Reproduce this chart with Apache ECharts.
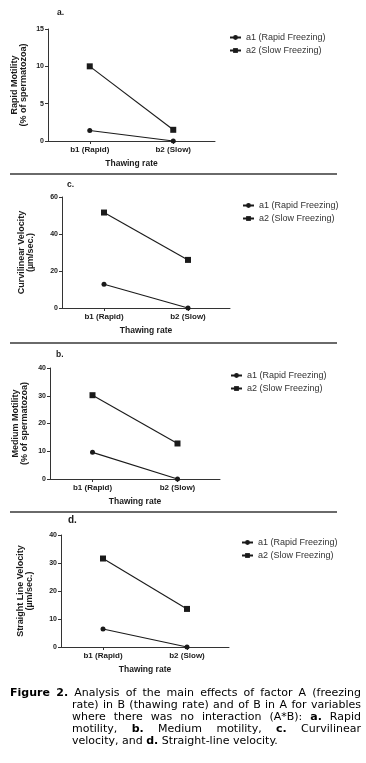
<!DOCTYPE html>
<html>
<head>
<meta charset="utf-8">
<script src="https://cdn.jsdelivr.net/npm/echarts@6/dist/echarts.min.js"></script>
<style>
  html, body { margin: 0; padding: 0; background: #fff; }
  #chart { position: absolute; left: 0; top: 0; width: 366px; height: 763px; }
  #caption { position: absolute; left: 10px; top: 687px; width: 351px;
    font-family: 'DejaVu Sans', Verdana, sans-serif; font-size: 11px; line-height: 11.9px; color: #000; }
  #caption .l { white-space: nowrap; }
  #caption .l.ind { padding-left: 62px; }
</style>
</head>
<body>
<div id="chart"></div>
<div id="caption">
  <div class="l"><span><b>Figure 2.</b> Analysis of the main effects of factor A (freezing</span></div>
  <div class="l ind"><span>rate) in B (thawing rate) and of B in A for variables</span></div>
  <div class="l ind"><span>where there was no interaction (A*B): <b>a.</b> Rapid</span></div>
  <div class="l ind"><span>motility, <b>b.</b> Medium motility, <b>c.</b> Curvilinear</span></div>
  <div class="l ind last"><span>velocity, and <b>d.</b> Straight-line velocity.</span></div>
</div>
<script>
// data
const categories = ['b1 (Rapid)', 'b2 (Slow)'];
const seriesNames = ['a1 (Rapid Freezing)', 'a2 (Slow Freezing)'];

const rapidA1 = [1.4, 0];
const rapidA2 = [10, 1.5];
const curvA1 = [12.8, 0];
const curvA2 = [51.6, 26];
const mediumA1 = [9.6, 0];
const mediumA2 = [30.2, 12.8];
const straightA1 = [6.4, 0];
const straightA2 = [31.6, 13.6];

const panelLabels = ['a.', 'c.', 'b.', 'd.'];
const yNames = [
  'Rapid Motility\n(% of spermatozoa)',
  'Curvilinear Velocity\n(µm/sec.)',
  'Medium Motility\n(% of spermatozoa)',
  'Straight Line Velocity\n(µm/sec.)'
];
const yMax = [15, 60, 40, 40];
const yStep = [5, 20, 10, 10];
const xName = 'Thawing rate';

// layout of the four stacked panels
const panels = [
  { left: 48, top: 29, width: 167, height: 112, nameGap: 20, lab: [57, 8], leg: [229, 33], data: [rapidA1, rapidA2] },
  { left: 62, top: 197, width: 168, height: 111, nameGap: 27, lab: [67, 180], leg: [242, 201], data: [curvA1, curvA2] },
  { left: 50, top: 368, width: 170, height: 111, nameGap: 21, lab: [56, 350], leg: [230, 371], data: [mediumA1, mediumA2] },
  { left: 61, top: 535, width: 168, height: 112, nameGap: 27, lab: [68, 515], leg: [241, 538], data: [straightA1, straightA2] }
];
const separatorsY = [174, 343, 512];

const FONT = 'Liberation Sans, Arial, sans-serif';
const INK = '#1a1a1a';
const symbols = ['circle', 'rect'];
const symbolSizes = [5, 6];

const chart = echarts.init(document.getElementById('chart'), null, { renderer: 'canvas' });

const grid = [], xAxis = [], yAxis = [], series = [], legend = [], graphic = [];
panels.forEach((p, i) => {
  grid.push({ left: p.left, top: p.top, width: p.width, height: p.height, containLabel: false });
  xAxis.push({
    type: 'category', gridIndex: i, data: categories, boundaryGap: true,
    name: xName, nameLocation: 'middle', nameGap: 18,
    nameTextStyle: { fontFamily: FONT, fontWeight: 'bold', fontSize: 8.5, color: INK },
    axisLine: { lineStyle: { color: '#333', width: 1 } },
    axisTick: { show: true, alignWithLabel: true, length: 3, lineStyle: { color: '#333' } },
    axisLabel: { fontFamily: FONT, fontWeight: 'bold', fontSize: 8, color: INK, margin: 5 },
    splitLine: { show: false }
  });
  yAxis.push({
    type: 'value', gridIndex: i, min: 0, max: yMax[i], interval: yStep[i],
    name: yNames[i], nameLocation: 'middle', nameGap: p.nameGap,
    nameTextStyle: { fontFamily: FONT, fontWeight: 'bold', fontSize: 9, lineHeight: 9, color: INK },
    axisLine: { show: true, lineStyle: { color: '#333', width: 1 } },
    axisTick: { show: true, length: 3, lineStyle: { color: '#333' } },
    axisLabel: { fontFamily: FONT, fontWeight: 'bold', fontSize: 7, color: INK, margin: 4 },
    splitLine: { show: false }
  });
  p.data.forEach((vals, k) => {
    series.push({
      type: 'line', name: seriesNames[k], xAxisIndex: i, yAxisIndex: i, data: vals,
      symbol: symbols[k], symbolSize: symbolSizes[k], showAllSymbol: true,
      lineStyle: { color: INK, width: 1.1 }, itemStyle: { color: INK },
      emphasis: { disabled: true }, animation: false
    });
  });
  legend.push({
    left: p.leg[0], top: p.leg[1], orient: 'vertical', data: seriesNames, padding: 0,
    itemWidth: 11, itemHeight: 6, itemGap: 4,
    textStyle: { fontFamily: FONT, fontSize: 9, color: '#333', lineHeight: 9 },
    selectedMode: false
  });
  graphic.push({
    type: 'text', left: p.lab[0], top: p.lab[1],
    style: { text: panelLabels[i], font: 'bold ' + (i === 3 ? 10 : 8.5) + 'px ' + FONT, fill: INK }
  });
});
separatorsY.forEach(y => {
  graphic.push({
    type: 'line', shape: { x1: 10, y1: y, x2: 337, y2: y },
    style: { stroke: '#6a6a6a', lineWidth: 2 }
  });
});

chart.setOption({
  animation: false,
  grid, xAxis, yAxis, series, legend, graphic,
  tooltip: { show: false }
});

// justify the caption lines by hand (last line stays ragged)
const lines = document.querySelectorAll('#caption .l');
lines.forEach(line => {
  if (line.classList.contains('last')) return;
  const span = line.firstElementChild;
  const target = line.clientWidth - parseFloat(getComputedStyle(line).paddingLeft);
  const w = span.getBoundingClientRect().width;
  const spaces = (span.textContent.match(/ /g) || []).length;
  if (w > target) {
    span.style.letterSpacing = ((target - w) / span.textContent.length).toFixed(3) + 'px';
  } else if (spaces) {
    span.style.wordSpacing = ((target - w) / spaces).toFixed(3) + 'px';
  }
});
</script>
</body>
</html>
